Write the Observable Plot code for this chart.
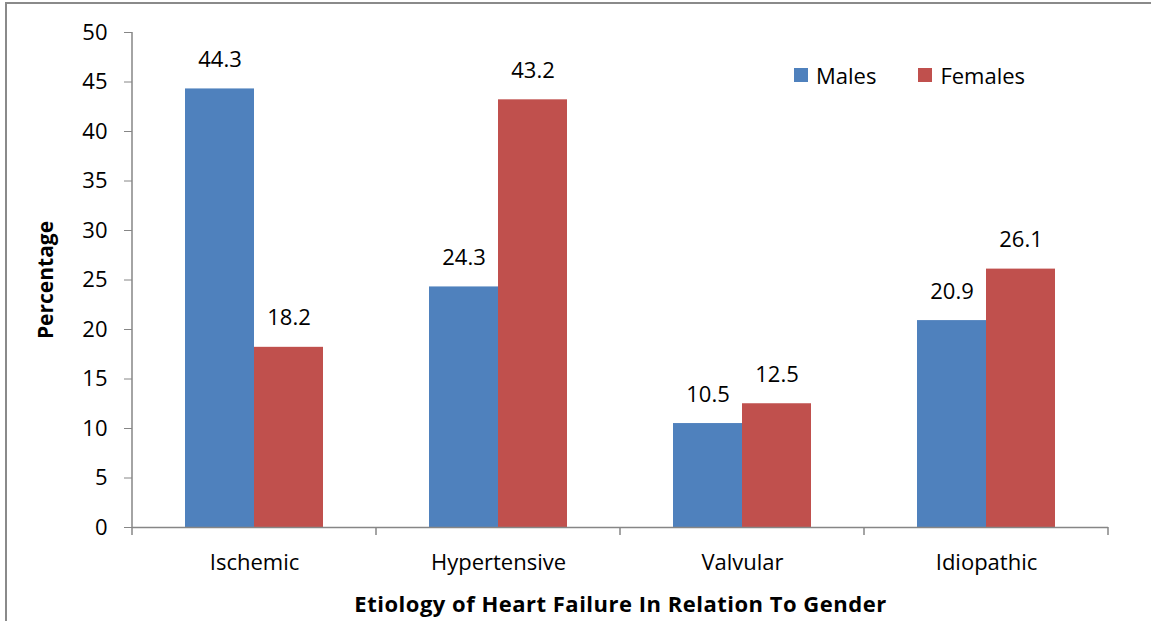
<!DOCTYPE html>
<html>
<head>
<meta charset="utf-8">
<script src="https://cdn.jsdelivr.net/npm/d3@7"></script>
<script src="https://cdn.jsdelivr.net/npm/@observablehq/plot@0.6"></script>
<style>
  html, body { margin: 0; padding: 0; background: #fff; }
  #wrap { position: relative; width: 1151px; height: 621px; overflow: hidden; font-family: "Open Sans", sans-serif; }
  #border { position: absolute; left: 5px; top: 2px; width: 1200px; height: 700px; border: 2px solid #8a8a8a; box-sizing: border-box; pointer-events: none; }
  #chart svg { display: block; }
  [aria-label="fx-axis label"] { font-weight: bold; font-size: 22px; letter-spacing: 0.5px; }
  [aria-label="y-axis label"] { font-weight: bold; font-size: 21px; }
  #legend { position: absolute; left: 794px; top: 60px; display: flex; align-items: center; font-size: 22px; line-height: 30px; color: #000; }
  #legend .item { display: flex; align-items: center; }
  #legend .sw { width: 14px; height: 14px; margin-right: 8px; }
</style>
</head>
<body>
<div id="wrap">
  <div id="chart"></div>
  <div id="legend"></div>
  <div id="border"></div>
</div>
<script>
const categories = ["Ischemic", "Hypertensive", "Valvular", "Idiopathic"];
const genders = ["Males", "Females"];
const males = [44.3, 24.3, 10.5, 20.9];
const females = [18.2, 43.2, 12.5, 26.1];
const yTicks = [0, 5, 10, 15, 20, 25, 30, 35, 40, 45, 50];
const colors = ["#4F81BD", "#C0504D"];
const xTitle = "Etiology of Heart Failure In Relation To Gender";
const yTitle = "Percentage";

const data = [];
categories.forEach((c, i) => {
  data.push({cat: c, gender: "Males", value: males[i]});
  data.push({cat: c, gender: "Females", value: females[i]});
});

const gray = "#868686";

const plot = Plot.plot({
  width: 1151,
  height: 621,
  marginLeft: 132,
  marginRight: 43,
  marginTop: 32,
  marginBottom: 94,
  style: {fontFamily: "Open Sans, sans-serif", fontSize: "22px", color: "#000", background: "transparent"},
  fx: {domain: categories, padding: 0},
  x: {domain: genders, paddingInner: 0, paddingOuter: 0.743, axis: null},
  y: {domain: [0, 50], labelArrow: false},
  color: {domain: genders, range: colors},
  marks: [
    Plot.barY(data, {fx: "cat", x: "gender", y: "value", fill: "gender"}),
    Plot.ruleY([0], {stroke: gray, strokeWidth: 1.5}),
    Plot.text(data, {fx: "cat", x: "gender", y: "value", text: d => d.value.toFixed(1), dy: -22, lineAnchor: "bottom", fontSize: 22, fill: "#000"}),
    Plot.axisY({ticks: yTicks, tickSize: 8, tickPadding: 17, fontSize: 22, stroke: gray, fill: "#000", label: yTitle, labelArrow: false, labelAnchor: "center", labelOffset: 94, tickFormat: d => String(d)}),
    Plot.axisFx({anchor: "bottom", tickSize: 0, tickPadding: 27, fontSize: 22, fill: "#000", label: xTitle, labelAnchor: "center", labelOffset: 84})
  ]
});

document.getElementById("chart").appendChild(plot);

// axis line and category boundary ticks, placed from the plot's own scales
const fxs = plot.scale("fx");
const ys = plot.scale("y");
const svg = d3.select(plot);
const x0 = fxs.range[0], x1 = fxs.range[1];
const step = (x1 - x0) / fxs.domain.length;
const yBottom = ys.range[0], yTop = ys.range[1];
const g = svg.append("g").attr("stroke", gray).attr("stroke-width", 1.5);
g.append("line").attr("x1", x0).attr("x2", x0).attr("y1", yTop).attr("y2", yBottom);
d3.range(fxs.domain.length + 1).forEach(i => {
  const x = x0 + i * step;
  g.append("line").attr("x1", x).attr("x2", x).attr("y1", yBottom).attr("y2", yBottom + 8);
});

// legend
const cs = plot.scale("color");
const colorScale = Plot.scale({color: cs});
const legend = d3.select("#legend");
genders.forEach((gname, i) => {
  const item = legend.append("div").attr("class", "item").style("margin-right", i === 0 ? "42px" : "0");
  item.append("div").attr("class", "sw").style("background", colorScale.apply(gname));
  item.append("span").text(gname);
});
</script>
</body>
</html>
